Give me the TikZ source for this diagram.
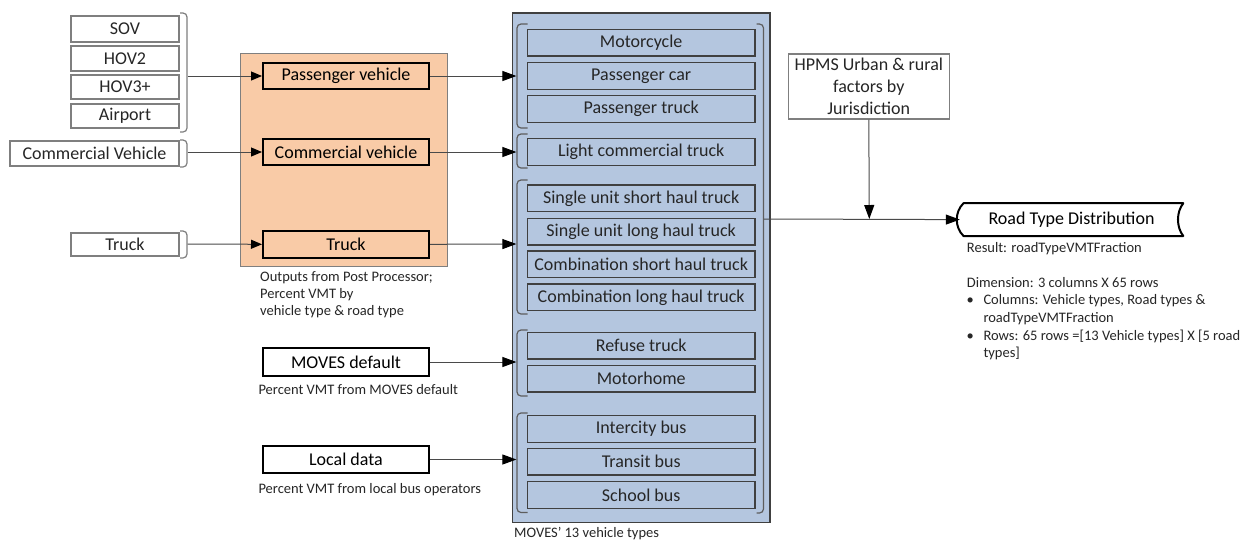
\documentclass[tikz,border=0pt]{standalone}
\usepackage{fontspec}
\setmainfont{Carlito}
\usetikzlibrary{arrows.meta}
\definecolor{peach}{HTML}{F9CBA7}
\definecolor{bluefill}{HTML}{B4C6DF}
\definecolor{greyline}{HTML}{7F7F7F}
\definecolor{darkline}{HTML}{404040}
\definecolor{conncol}{HTML}{4A4A4A}
\begin{document}
\begin{tikzpicture}[x=1pt,y=-1pt,
 mainfont/.style={font=\fontsize{18}{22}\selectfont},
 smallfont/.style={font=\fontsize{14.5}{17.7}\selectfont},
 inbox/.style={draw=greyline, line width=1.2pt, fill=white, inner sep=0pt, mainfont, text=black!85},
 keybox/.style={draw=black, line width=2pt, inner sep=0pt, mainfont, minimum width=166pt, minimum height=26.8pt},
 vehbox/.style={draw=darkline, line width=1.2pt, fill=bluefill, inner sep=0pt, mainfont, text=black!85, minimum width=227.7pt, minimum height=26.7pt},
 brace/.style={draw=greyline, line width=1.2pt, rounded corners=4pt},
 vbrace/.style={draw=darkline!85, line width=1.2pt, rounded corners=4pt},
 conn/.style={draw=conncol, line width=1pt, -{Triangle[length=14pt,width=10pt,color=black]}},
 note/.style={smallfont, anchor=base west, inner sep=0pt, text=black!85}]
\useasboundingbox (0,0) rectangle (1250,542);
\fill[white] (0,0) rectangle (1250,542);

% left inputs
\node[inbox, minimum width=108pt, minimum height=26pt] (sov) at (125,29) {SOV};
\node[inbox, minimum width=108pt, minimum height=25pt] (hov2) at (125,58.5) {HOV2};
\node[inbox, minimum width=108pt, minimum height=24pt] (hov3) at (125,87) {HOV3+};
\node[inbox, minimum width=108pt, minimum height=24pt] (airport) at (125,116) {Airport};
\node[inbox, minimum width=169pt, minimum height=25pt] (commv) at (94.5,153.5) {Commercial Vehicle};
\node[inbox, minimum width=108pt, minimum height=23pt] (truckin) at (125,244.5) {Truck};

\draw[brace] (180,13) -- (187,13) -- (187,132) -- (180,132);
\draw[brace] (180,140) -- (187,140) -- (187,167) -- (180,167);
\draw[brace] (180,231) -- (187,231) -- (187,258) -- (180,258);
\coordinate (lb1) at (187.6,76);
\coordinate (lb2) at (187.6,152);
\coordinate (lb3) at (187.6,244);

% post processor
\node[draw=greyline, line width=1pt, fill=peach, minimum width=207pt, minimum height=213pt, inner sep=0pt] (post) at (343.5,159.5) {};
\node[keybox] (pv) at (346,76) {Passenger vehicle};
\node[keybox] (cv) at (346,152) {Commercial vehicle};
\node[keybox] (tr) at (346,244.3) {Truck};
\node[note] (postnote1) at (260,281.5) {Outputs from Post Processor;};
\node[note] (postnote2) at (260,298.5) {Percent VMT by};
\node[note] (postnote3) at (260,315.5) {vehicle type \& road type};

% other sources
\node[keybox, fill=white, minimum height=27.4pt] (moves) at (346,362) {MOVES default};
\node[note] (movesnote) at (258.3,394) {Percent VMT from MOVES default};
\node[keybox, fill=white, minimum height=27.6pt] (local) at (346,459.5) {Local data};
\node[note] (localnote) at (258.3,493.5) {Percent VMT from local bus operators};

% MOVES vehicle types
\node[draw=darkline, line width=1.2pt, fill=bluefill, minimum width=257.3pt, minimum height=509.7pt, inner sep=0pt] (moves13) at (641.4,267.9) {};
\node[vehbox] (moto) at (641.2,42.7) {Motorcycle};
\node[vehbox] (pcar) at (641.2,75.8) {Passenger car};
\node[vehbox] (ptruck) at (641.2,109) {Passenger truck};
\node[vehbox] (lct) at (641.2,151.8) {Light commercial truck};
\node[vehbox] (sush) at (641.2,198.3) {Single unit short haul truck};
\node[vehbox] (sulh) at (641.2,231.7) {Single unit long haul truck};
\node[vehbox] (csh) at (641.2,264.3) {Combination short haul truck};
\node[vehbox] (clh) at (641.2,297.3) {Combination long haul truck};
\node[vehbox] (refuse) at (641.2,345.7) {Refuse truck};
\node[vehbox] (mhome) at (641.2,378.7) {Motorhome};
\node[vehbox] (icbus) at (641.2,429) {Intercity bus};
\node[vehbox] (tbus) at (641.2,461.7) {Transit bus};
\node[vehbox] (sbus) at (641.2,495) {School bus};
\node[note] (moves13note) at (514,537.5) {MOVES’ 13 vehicle types};

\draw[vbrace] (527.5,24) -- (517,24) -- (517,128) -- (527.5,128);
\draw[vbrace] (527.5,134) -- (517,134) -- (517,168) -- (527.5,168);
\draw[vbrace] (527.5,180) -- (517,180) -- (517,314) -- (527.5,314);
\draw[vbrace] (527.5,330) -- (517,330) -- (517,396) -- (527.5,396);
\draw[vbrace] (527.5,413) -- (517,413) -- (517,512.5) -- (527.5,512.5);
\draw[vbrace] (756.5,24) -- (763.5,24) -- (763.5,513) -- (756.5,513);
\coordinate (g1) at (516.4,76);
\coordinate (g2) at (516.4,152);
\coordinate (g3) at (516.4,244);
\coordinate (g4) at (516.4,362);
\coordinate (g5) at (516.4,459.5);
\coordinate (rb) at (764,219);

% HPMS and result
\node[inbox, minimum width=161pt, minimum height=65pt, align=center] (hpms) at (868.8,86.5) {HPMS Urban \& rural\\factors by\\Jurisdiction};
\coordinate (j) at (869.3,219);
\node[minimum width=223pt, minimum height=33pt, inner sep=0pt, mainfont] (rtd) at (1071.5,219.6) {Road Type Distribution};
\draw[line width=2pt, line join=round] (963.5,203.2) -- (1183.3,203.2)
  .. controls (1176.2,212) and (1176.2,227.2) .. (1183.3,236)
  -- (963.5,236) .. controls (954.5,227.2) and (954.5,212) .. (963.5,203.2) -- cycle;
\node[note] (res) at (966.7,252) {Result: roadTypeVMTFraction};
\node[note] (dim) at (966.7,287) {Dimension: 3 columns X 65 rows};
\node[note] (bul1) at (966.5,304.5) {•};
\node[note] (col1) at (983.3,304.5) {Columns: Vehicle types, Road types \&};
\node[note] (col2) at (983.3,322) {roadTypeVMTFraction};
\node[note] (bul2) at (966.5,340) {•};
\node[note] (row1) at (983.3,340) {Rows: 65 rows =[13 Vehicle types] X [5 road};
\node[note] (row2) at (983.3,357.7) {types]};

% connectors
\draw[conn, -{Triangle[length=11pt,width=9pt,color=black]}] (lb1) -- (pv.west);
\draw[conn, -{Triangle[length=11pt,width=9pt,color=black]}] (lb2) -- (cv.west);
\draw[conn, -{Triangle[length=11pt,width=9pt,color=black]}] (lb3) -- (tr.west);
\draw[conn] (pv.east) -- (g1);
\draw[conn] (cv.east) -- (g2);
\draw[conn] (tr.east) -- (g3);
\draw[conn] (moves.east) -- (g4);
\draw[conn] (local.east) -- (g5);
\draw[conn] (rb) -- (rtd.west);
\draw[conn] (hpms.south) -- (j);
\end{tikzpicture}
\end{document}
